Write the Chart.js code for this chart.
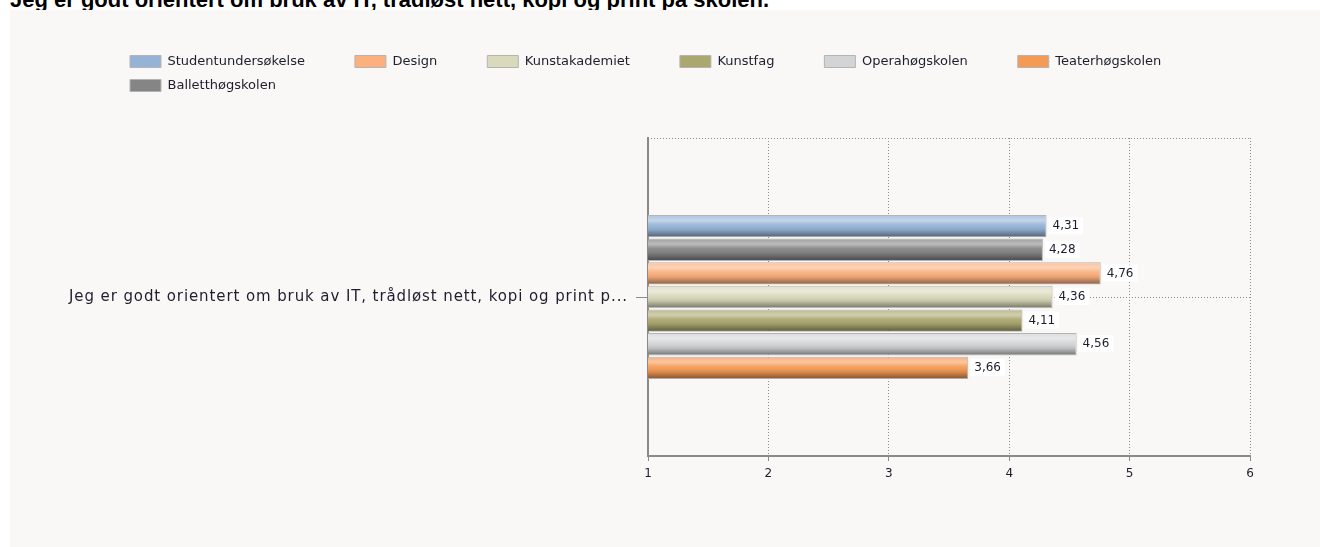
<!DOCTYPE html>
<html>
<head>
<meta charset="utf-8">
<script src="https://cdn.jsdelivr.net/npm/chart.js@4.4.1/dist/chart.umd.min.js"></script>
<style>
  body { margin: 0; background: #ffffff; width: 1320px; height: 547px; overflow: hidden; position: relative; }
  #title { position: absolute; left: 10px; top: -12px; font: bold 22px "Liberation Sans", Arial, sans-serif; line-height: 24px; color: #000; white-space: nowrap; }
  #panel { position: absolute; left: 10px; top: 10px; width: 1310px; height: 537px; background: #f9f8f6; }
</style>
</head>
<body>
<div id="title">Jeg er godt orientert om bruk av IT, trådløst nett, kopi og print på skolen.</div>
<div id="panel"><canvas id="dataChart" width="1310" height="537"></canvas></div>
<script>
const categories = ['Jeg er godt orientert om bruk av IT, trådløst nett, kopi og print p...'];
// bar order, top to bottom
const seriesNames = ['Studentundersøkelse', 'Balletthøgskolen', 'Design', 'Kunstakademiet', 'Kunstfag', 'Operahøgskolen', 'Teaterhøgskolen'];
const seriesValues = [4.31, 4.28, 4.76, 4.36, 4.11, 4.56, 3.66];
const seriesColors = ['#95b3d7', '#858585', '#fbb07e', '#d9d9bc', '#aaa76f', '#d3d4d6', '#f49a55'];
const legendOrder = ['Studentundersøkelse', 'Design', 'Kunstakademiet', 'Kunstfag', 'Operahøgskolen', 'Teaterhøgskolen', 'Balletthøgskolen'];
const xTicks = [1, 2, 3, 4, 5, 6];

const family = '"DejaVu Sans", Verdana, sans-serif';
const textColor = '#1e1e2e';
const gridColor = '#8a8a8a';

const ctx = document.getElementById('dataChart');

// puts the legend where the original had it, spaces out the category label a bit
const legendPlace = {
    id: 'legendPlace',
    beforeDraw(chart) {
        chart.legend.left = 109;
        chart.legend.right = 1300;
        chart.legend.top = 34;
        const y = chart.scales.y;
        if (!y._spaced) {
            const orig = y.drawLabels;
            y.drawLabels = function (area) {
                this.ctx.save();
                this.ctx.letterSpacing = '0.9px';
                orig.call(this, area);
                this.ctx.restore();
            };
            y._spaced = true;
        }
    }
};

// dotted top edge, glossy shading over the bars, then the value labels
const barDecor = {
    id: 'barDecor',
    beforeDatasetsDraw(chart) {
        const c = chart.ctx;
        const a = chart.chartArea;
        c.save();
        c.strokeStyle = gridColor;
        c.lineWidth = 1;
        c.setLineDash([1, 2]);
        c.beginPath();
        c.moveTo(a.left, a.top + 0.5);
        c.lineTo(a.right, a.top + 0.5);
        c.stroke();
        c.restore();
    },
    afterDatasetsDraw(chart) {
        const c = chart.ctx;
        const left = chart.chartArea.left;
        c.save();
        chart.data.datasets.forEach((ds, i) => {
            chart.getDatasetMeta(i).data.forEach(bar => {
                const top = bar.y - bar.height / 2 + 1;
                const bottom = bar.y + bar.height / 2 - 1;
                const g = c.createLinearGradient(0, top, 0, bottom);
                g.addColorStop(0, 'rgba(255,255,255,0.25)');
                g.addColorStop(0.22, 'rgba(255,255,255,0.45)');
                g.addColorStop(0.45, 'rgba(255,255,255,0.05)');
                g.addColorStop(0.7, 'rgba(0,0,0,0.10)');
                g.addColorStop(1, 'rgba(0,0,0,0.42)');
                c.fillStyle = g;
                c.fillRect(left, top, bar.x - left - 1, bottom - top);
            });
        });
        c.font = '12px ' + family;
        c.textBaseline = 'middle';
        chart.data.datasets.forEach((ds, i) => {
            chart.getDatasetMeta(i).data.forEach((bar, j) => {
                const txt = ds.data[j].toFixed(2).replace('.', ',');
                const w = c.measureText(txt).width;
                c.fillStyle = '#ffffff';
                c.fillRect(bar.x + 2, bar.y - 9, w + 8, 17);
                c.fillStyle = textColor;
                c.fillText(txt, bar.x + 6, bar.y);
            });
        });
        c.restore();
    }
};

var chartData = {
    labels: categories,
    datasets: seriesNames.map((name, i) => ({
        label: name,
        data: [seriesValues[i]],
        backgroundColor: seriesColors[i],
        borderColor: '#b4b4b4',
        borderWidth: 1,
        categoryPercentage: 0.52,
        barPercentage: 0.95
    }))
};

var chartOptions = {
    indexAxis: 'y',
    responsive: false,
    animation: false,
    devicePixelRatio: 1,
    layout: { padding: { top: 70, right: 70, bottom: 61, left: 0 } },
    scales: {
        x: {
            min: xTicks[0],
            max: xTicks[xTicks.length - 1],
            ticks: { stepSize: 1, font: { family: family, size: 12 }, color: textColor, padding: 6 },
            grid: { color: gridColor, tickLength: 5 },
            border: { color: gridColor, width: 2, dash: [1, 2] },
            afterFit(scale) { scale.height = 30; }
        },
        y: {
            ticks: { font: { family: family, size: 15 }, color: textColor, padding: 8 },
            grid: { color: gridColor, offset: false, tickLength: 12 },
            border: { color: gridColor, width: 2, dash: [1, 2] },
            afterFit(scale) { scale.width = 638; }
        }
    },
    plugins: {
        legend: {
            position: 'top',
            align: 'start',
            labels: {
                boxWidth: 31,
                boxHeight: 12,
                padding: 11,
                font: { family: family, size: 13 },
                color: textColor,
                sort: (a, b) => legendOrder.indexOf(a.text.trim()) - legendOrder.indexOf(b.text.trim()),
                generateLabels(chart) {
                    const items = Chart.defaults.plugins.legend.labels.generateLabels(chart);
                    items.forEach(it => { it.text = it.text + '\u2003\u2003\u2003'; });
                    return items;
                }
            }
        },
        tooltip: { enabled: false }
    }
};

var myChart = new Chart(ctx, {
    type: 'bar',
    data: chartData,
    options: chartOptions,
    plugins: [legendPlace, barDecor]
});
</script>
</body>
</html>
